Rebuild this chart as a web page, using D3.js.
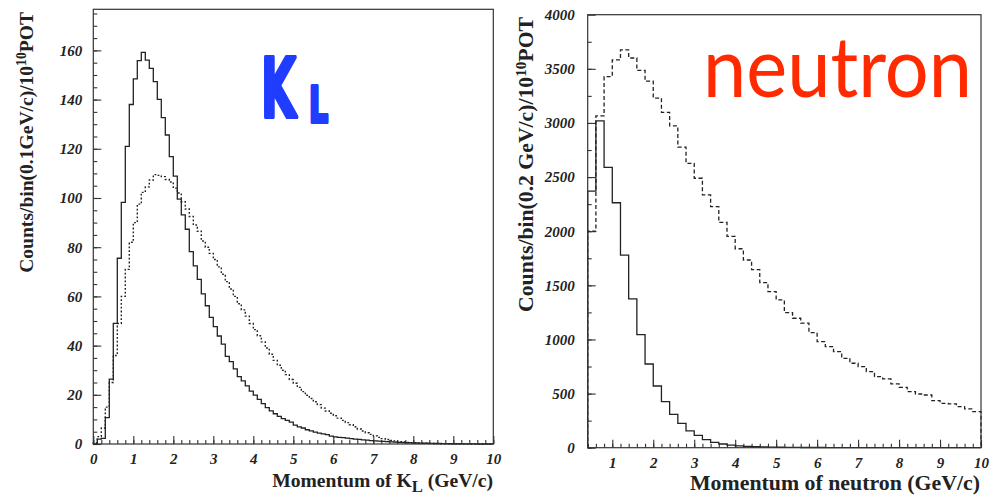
<!DOCTYPE html>
<html>
<head>
<meta charset="utf-8">
<script src="https://cdn.jsdelivr.net/npm/d3@7/dist/d3.min.js"></script>
<style>
  html, body { margin: 0; padding: 0; background: #fff; }
  svg { display: block; }
  .tick text { font-family: "Liberation Serif", "Times New Roman", serif; font-style: italic; font-weight: bold; font-size: 15px; fill: #222; }
  .tick line { stroke: #333; stroke-width: 1.1; }
  .axis path.domain { display: none; }
  .title { font-family: "Liberation Serif", "Times New Roman", serif; font-weight: bold; fill: #222; }
</style>
</head>
<body>
<svg id="chart" width="991" height="495"></svg>
<script>
// ---- K_L momentum spectrum: 0.1 GeV/c bins from 0 to 10 GeV/c ----
const klBinStart = 0;
const klBinWidth = 0.1;
const klSolid = [
  0, 2, 2.3, 10.7, 26.4, 49, 75.5, 98.2, 121, 138,
  148.4, 155.8, 159.2, 156, 152.7, 147.3, 140.1, 132.7, 125.6, 116.8,
  108.9, 99.5, 93.1, 87.3, 78.2, 72.4, 66.9, 61, 56.2, 51.5,
  47.7, 43.9, 40.6, 35.6, 33.5, 30.5, 27.4, 25.7, 23.6, 21.5,
  19.9, 18.1, 16.4, 14.8, 13.5, 12.3, 11.2, 10.3, 9.6, 8.9,
  7.7, 7.0, 6.5, 5.8, 5.3, 4.8, 4.4, 4.1, 3.8, 3.2,
  2.9, 2.7, 2.6, 2.4, 2.2, 2.0, 1.9, 1.7, 1.6, 1.4,
  1.3, 1.2, 1.1, 1.0, 0.9, 0.8, 0.7, 0.6, 0.5, 0.45,
  0.4, 0.35, 0.3, 0.3, 0.25, 0.2, 0.2, 0.15, 0.15, 0.1,
  0.1, 0.1, 0.05, 0.05, 0.05, 0.05, 0, 0, 0, 0
];
const klDotted = [
  0.5, 3, 6.5, 15, 25, 36, 49, 60, 71, 82,
  90, 97.5, 102.3, 104.5, 107.3, 109.5, 109.2, 108.7, 107.5, 106.5,
  104, 102, 98.5, 95.5, 92.5, 89, 86.5, 82.5, 80, 77.5,
  75, 72, 69, 66, 63, 60, 57, 54.5, 52, 49,
  46.5, 44, 41.5, 39, 36.5, 34, 32, 30, 28.2, 26.2,
  24.7, 23, 21.3, 19.8, 18.5, 17.2, 16, 14.6, 13.4, 12.5,
  11.5, 10.5, 9.6, 8.7, 7.8, 7.0, 6.1, 5.3, 4.6, 3.9,
  3.3, 2.7, 2.2, 1.8, 1.4, 1.2, 0.9, 0.8, 0.6, 0.5,
  0.5, 0.4, 0.3, 0.3, 0.2, 0.2, 0.15, 0.1, 0.1, 0.1,
  0.05, 0.05, 0.05, 0.05, 0, 0, 0, 0, 0, 0
];
const klXTicks = [0, 1, 2, 3, 4, 5, 6, 7, 8, 9, 10];
const klYTicks = [0, 20, 40, 60, 80, 100, 120, 140, 160];
const klYMax = 176.7;

// ---- neutron momentum spectrum: 0.2 GeV/c bins from 0.4 to 10 GeV/c ----
const nBinStart = 0.4;
const nBinWidth = 0.2;
const nSolid = [
  2371, 3020, 2590, 2263, 1779, 1374, 1045, 773, 570, 425,
  307, 225, 155, 114, 75, 49, 34, 24, 16, 12,
  9, 7, 5, 4, 3, 3, 2, 2, 2, 1,
  1, 1, 1, 1, 1, 0, 0, 0, 0, 0,
  0, 0, 0, 0, 0, 0, 0, 0
];
const nDashed = [
  2000, 3065, 3428, 3582, 3675, 3600, 3485, 3386, 3229, 3097,
  2973, 2777, 2627, 2489, 2335, 2227, 2081, 1953, 1838, 1734,
  1645, 1525, 1442, 1365, 1248, 1196, 1150, 1063, 980, 934,
  887, 826, 780, 749, 703, 656, 635, 589, 558, 518,
  496, 487, 434, 410, 404, 379, 358, 333
];
const nXTicks = [1, 2, 3, 4, 5, 6, 7, 8, 9, 10];
const nYTicks = [0, 500, 1000, 1500, 2000, 2500, 3000, 3500, 4000];
const nXMin = 0.4, nXMax = 10, nYMax = 4000;

const svg = d3.select("#chart");

// Step outline of a histogram, closed down to zero at both ends.
function stepPoints(start, width, values) {
  const pts = [[start, 0]];
  values.forEach((v, i) => {
    const lo = start + i * width;
    pts.push([lo, v], [lo + width, v]);
  });
  pts.push([start + values.length * width, 0]);
  return pts;
}

// Scales a text element's font size so its length matches a target.
function fitLength(textSel, target) {
  const node = textSel.node();
  const base = parseFloat(textSel.attr("font-size"));
  const len = node.getComputedTextLength();
  textSel.attr("font-size", (base * target / len).toFixed(2));
}

function drawPanel(g, cfg) {
  const x = d3.scaleLinear().domain(cfg.xDomain).range([cfg.left, cfg.right]);
  const y = d3.scaleLinear().domain([0, cfg.yMax]).range([cfg.bottom, cfg.top]);

  // minor ticks
  g.append("g").attr("class", "axis")
    .attr("transform", `translate(0,${cfg.bottom})`)
    .call(d3.axisBottom(x).tickValues(cfg.xMinor).tickSize(-4).tickFormat(""));
  g.append("g").attr("class", "axis")
    .attr("transform", `translate(${cfg.left},0)`)
    .call(d3.axisLeft(y).tickValues(cfg.yMinor).tickSize(-4).tickFormat(""));

  // major ticks with labels
  g.append("g").attr("class", "axis")
    .attr("transform", `translate(0,${cfg.bottom})`)
    .call(d3.axisBottom(x).tickValues(cfg.xTicks).tickSize(-8).tickPadding(cfg.xPad).tickFormat(d3.format("d")));
  g.append("g").attr("class", "axis")
    .attr("transform", `translate(${cfg.left},0)`)
    .call(d3.axisLeft(y).tickValues(cfg.yTicks).tickSize(-8).tickPadding(cfg.yPad).tickFormat(d3.format("d")));

  const line = d3.line().x(d => x(d[0])).y(d => y(d[1]));

  g.append("path")
    .attr("d", line(stepPoints(cfg.binStart, cfg.binWidth, cfg.second)))
    .attr("fill", "none").attr("stroke", "#222").attr("stroke-width", cfg.dashWidth)
    .attr("stroke-dasharray", cfg.dash);

  g.append("path")
    .attr("d", line(stepPoints(cfg.binStart, cfg.binWidth, cfg.first)))
    .attr("fill", "none").attr("stroke", "#222").attr("stroke-width", 1.3);

  // frame
  g.append("rect")
    .attr("x", cfg.left).attr("y", cfg.top)
    .attr("width", cfg.right - cfg.left).attr("height", cfg.bottom - cfg.top)
    .attr("fill", "none").attr("stroke", "#333").attr("stroke-width", 1.2);
}

// ---------- left panel ----------
const gL = svg.append("g");
drawPanel(gL, {
  xDomain: [0, 10], yMax: klYMax,
  left: 93.3, right: 493.3, top: 9.3, bottom: 444,
  xTicks: klXTicks, yTicks: klYTicks,
  xMinor: d3.range(0, 10.001, 0.2).map(v => +v.toFixed(1)),
  yMinor: d3.range(0, klYMax, 5),
  xPad: 9, yPad: 11,
  binStart: klBinStart, binWidth: klBinWidth,
  first: klSolid, second: klDotted, dash: "1.8,2", dashWidth: 1.4
});

const tL = gL.append("text").attr("class", "title")
  .attr("x", 493).attr("y", 487).attr("text-anchor", "end").attr("font-size", 20);
tL.append("tspan").text("Momentum of K");
tL.append("tspan").attr("dy", 4.5).attr("font-size", "0.85em").text("L");
tL.append("tspan").attr("dy", -4.5).text(" (GeV/c)");
fitLength(tL, 221);

const yL = gL.append("text").attr("class", "title")
  .attr("transform", "translate(33,12) rotate(-90)")
  .attr("text-anchor", "end").attr("font-size", 20);
yL.append("tspan").text("Counts/bin(0.1GeV/c)/10");
yL.append("tspan").attr("dy", -7).attr("font-size", "0.7em").text("10");
yL.append("tspan").attr("dy", 7).text("POT");
fitLength(yL, 261);

// K_L marker label, thick rounded strokes
const klLabel = gL.append("g").attr("fill", "#1f3cff").attr("stroke", "#1f3cff")
  .attr("stroke-width", 4).attr("stroke-linejoin", "round").attr("stroke-linecap", "round")
  .style("font-family", "'DejaVu Sans', sans-serif").style("font-weight", "bold");
klLabel.append("text").attr("transform", "translate(261,117) scale(0.55,1)")
  .attr("font-size", 82).text("K");
klLabel.append("text").attr("transform", "translate(309,122) scale(0.6,1)")
  .attr("font-size", 50).text("L");

// ---------- right panel ----------
const gR = svg.append("g");
drawPanel(gR, {
  xDomain: [nXMin, nXMax], yMax: nYMax,
  left: 587.7, right: 981, top: 14.7, bottom: 447.7,
  xTicks: nXTicks, yTicks: nYTicks,
  xMinor: d3.range(0.4, 10.001, 0.2).map(v => +v.toFixed(1)),
  yMinor: d3.range(0, nYMax, 250),
  xPad: 10, yPad: 13,
  binStart: nBinStart, binWidth: nBinWidth,
  first: nSolid, second: nDashed, dash: "4,2.5", dashWidth: 1.3
});

const tR = gR.append("text").attr("class", "title")
  .attr("x", 980).attr("y", 490).attr("text-anchor", "end").attr("font-size", 20)
  .text("Momentum of neutron (GeV/c)");
fitLength(tR, 290);

const yR = gR.append("text").attr("class", "title")
  .attr("transform", "translate(533,17) rotate(-90)")
  .attr("text-anchor", "end").attr("font-size", 20);
yR.append("tspan").text("Counts/bin(0.2 GeV/c)/10");
yR.append("tspan").attr("dy", -7).attr("font-size", "0.7em").text("10");
yR.append("tspan").attr("dy", 7).text("POT");
fitLength(yR, 295);

gR.append("text")
  .attr("x", 703).attr("y", 97)
  .attr("font-family", "Lato, 'Open Sans', sans-serif")
  .attr("font-size", 83)
  .attr("fill", "#ff2a00")
  .attr("textLength", 269).attr("lengthAdjust", "spacingAndGlyphs")
  .text("neutron");
</script>
</body>
</html>
